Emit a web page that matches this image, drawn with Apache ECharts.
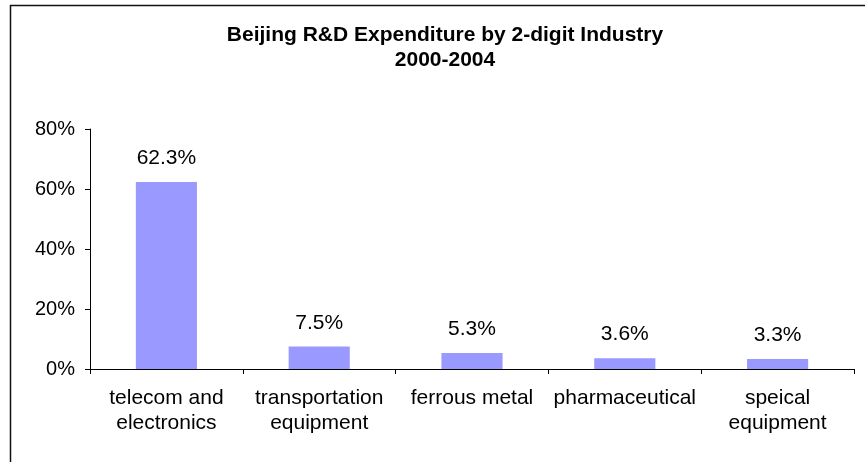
<!DOCTYPE html>
<html>
<head>
<meta charset="utf-8">
<script src="https://cdn.jsdelivr.net/npm/echarts@6/dist/echarts.min.js"></script>
<style>
html,body{margin:0;padding:0;background:#fff;}
#chart{width:865px;height:462px;}
</style>
</head>
<body>
<div id="chart"></div>
<script>
const categories = ["telecom and\nelectronics", "transportation\nequipment", "ferrous metal", "pharmaceutical", "speical\nequipment"];
const values = [62.3, 7.5, 5.3, 3.6, 3.3];
const yTicks = { min: 0, max: 80, interval: 20 };
const titleText = "Beijing R&D Expenditure by 2-digit Industry\n2000-2004";

const chart = echarts.init(document.getElementById('chart'), null, {renderer: 'canvas'});
const font = '"Liberation Sans", Arial, sans-serif';
chart.setOption({
  animation: false,
  backgroundColor: '#fff',
  title: {
    text: titleText,
    left: 440,
    top: 18,
    textAlign: 'center',
    textStyle: { fontFamily: font, fontWeight: 'bold', fontSize: 21, color: '#000', lineHeight: 25 }
  },
  graphic: [{
    type: 'rect',
    shape: { x: 10.5, y: 5.5, width: 900, height: 500 },
    style: { fill: 'none', stroke: '#111', lineWidth: 1.5 },
    silent: true
  }],
  grid: { left: 90, right: 11, top: 129, bottom: 93, containLabel: false },
  xAxis: {
    type: 'category',
    data: categories,
    axisLine: { lineStyle: { color: '#000', width: 1 } },
    axisTick: { show: true, alignWithLabel: false, length: 5, lineStyle: { color: '#000' } },
    axisLabel: { fontFamily: font, fontSize: 21, color: '#000', lineHeight: 25, margin: 17, interval: 0 }
  },
  yAxis: {
    type: 'value',
    min: yTicks.min, max: yTicks.max, interval: yTicks.interval,
    axisLine: { show: true, lineStyle: { color: '#000', width: 1 } },
    axisTick: { show: true, length: 5, lineStyle: { color: '#000' } },
    splitLine: { show: false },
    axisLabel: { fontFamily: font, fontSize: 20, color: '#000', margin: 15, formatter: '{value}%' }
  },
  series: [{
    type: 'bar',
    data: values,
    barWidth: '40%',
    itemStyle: { color: '#9999FF' },
    label: {
      show: true, position: 'top', distance: 13,
      fontFamily: font, fontSize: 21, color: '#000',
      formatter: p => p.value.toFixed(1) + '%'
    }
  }]
});
</script>
</body>
</html>
